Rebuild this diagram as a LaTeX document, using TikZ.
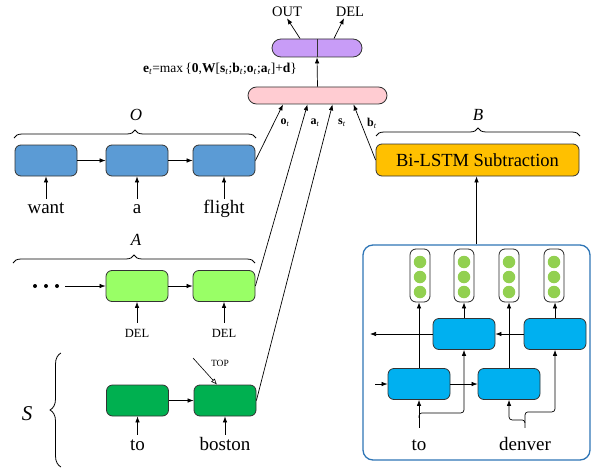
\documentclass[tikz,border=0pt]{standalone}
\usepackage{fontspec}
\setmainfont{Liberation Serif}
\usetikzlibrary{arrows.meta,decorations.pathreplacing,calc}
\definecolor{oblue}{HTML}{5B9BD5}
\definecolor{agreen}{HTML}{99FF66}
\definecolor{sgreen}{HTML}{00B050}
\definecolor{pinkc}{HTML}{FFCCD2}
\definecolor{purplec}{HTML}{C89CF7}
\definecolor{orangec}{HTML}{FFC000}
\definecolor{cyanc}{HTML}{00B0F0}
\definecolor{dotg}{HTML}{92D050}
\definecolor{framec}{HTML}{2E75B6}
\tikzset{
  lstm/.style={draw=black!80, line width=0.8pt, rounded corners=6pt, minimum width=62pt, minimum height=31pt, inner sep=0pt},
  arr/.style={-{Latex[length=6pt,width=4.5pt]}, line width=0.7pt},
  word/.style={font=\fontsize{19}{19}\selectfont, text height=13pt, text depth=4pt, inner sep=2pt, anchor=base},
  smallw/.style={font=\fontsize{12.5}{12.5}\selectfont, inner sep=1pt, anchor=base},
  setlbl/.style={font=\fontsize{17}{17}\selectfont\itshape, inner sep=0pt},
  vlbl/.style={font=\fontsize{12}{12}\selectfont, inner sep=0pt},
  brc/.style={decorate, decoration={brace, amplitude=8pt}, line width=0.8pt},
  outcol/.style={draw=black!85, line width=0.8pt, rounded corners=6pt, fill=white, minimum width=20pt, minimum height=53pt, inner sep=0pt},
  gdot/.style={circle, fill=dotg, minimum size=12.5pt, inner sep=0pt},
  bdot/.style={circle, fill=black, minimum size=4pt, inner sep=0pt}
}
\begin{document}
\begin{tikzpicture}[x=1pt,y=-1pt]
\useasboundingbox (0,0) rectangle (591,468);

% ---------- O row ----------
\node[lstm, fill=oblue] (o1) at (46,160.5) {};
\node[lstm, fill=oblue] (o2) at (137,160.5) {};
\node[lstm, fill=oblue] (o3) at (224,160.5) {};
\node[word] (w1) at (46,213) {want};
\node[word] (w2) at (137,213) {a};
\node[word] (w3) at (224,213) {flight};
\draw[arr] (o1.east) -- (o2.west);
\draw[arr] (o2.east) -- (o3.west);
\foreach \i in {1,2,3} \draw[arr] ([yshift=-1pt]w\i.north) -- (o\i.south);
\draw[brc] (14,138) -- (256,138);
\node[setlbl] (lo) at (136,115) {O};

% ---------- A row ----------
\node[lstm, fill=agreen] (a1) at (137,286) {};
\node[lstm, fill=agreen] (a2) at (224,286) {};
\node[bdot] (d1) at (35,286) {};
\node[bdot] (d2) at (46,286) {};
\node[bdot] (d3) at (57,286) {};
\coordinate (din) at (65,286);
\draw[arr] (din) -- (a1.west);
\draw[arr] (a1.east) -- (a2.west);
\node[smallw] (del1) at (137,337) {DEL};
\node[smallw] (del2) at (224,337) {DEL};
\draw[arr] ([yshift=5pt]del1.north) -- (a1.south);
\draw[arr] ([yshift=5pt]del2.north) -- (a2.south);
\draw[brc] (13,263) -- (255,263);
\node[setlbl] (la) at (136,240) {A};

% ---------- S row ----------
\node[lstm, fill=sgreen] (s1) at (137.5,400.5) {};
\node[lstm, fill=sgreen] (s2) at (225,400.5) {};
\draw[arr] (s1.east) -- (s2.west);
\node[word] (w4) at (137.5,450) {to};
\node[word] (w5) at (225,450) {boston};
\draw[arr] (w4.north) -- (s1.south);
\draw[arr] (w5.north) -- (s2.south);
\node[font=\fontsize{9.5}{9.5}\selectfont, inner sep=0pt] (top) at (220,363) {TOP};
\coordinate (topstart) at (193,358);
\draw[-{Latex[open,length=6pt,width=5pt]}, line width=0.6pt] (topstart) -- ([xshift=-8pt]s2.north);
\draw[decorate, decoration={brace, amplitude=11pt}, line width=0.8pt] (61,467) -- (61,353);
\node[font=\fontsize{21}{21}\selectfont\itshape, inner sep=0pt] (ls) at (27,414) {S};

% ---------- top ----------
\node[draw=black!80, line width=0.8pt, fill=pinkc, rounded corners=8.5pt, minimum width=139pt, minimum height=17pt, inner sep=0pt] (pk) at (317.5,95.5) {};
\node[draw=black!80, line width=0.8pt, fill=purplec, rounded corners=9pt, minimum width=90pt, minimum height=18pt, inner sep=0pt] (pu) at (317,48) {};
\draw[line width=0.8pt, black!80] (pu.north) -- (pu.south);
\draw[arr] (pk.north) -- (pu.south);
\node[font=\fontsize{14.5}{14.5}\selectfont, inner sep=0pt, anchor=base] (out) at (287,17) {OUT};
\node[font=\fontsize{14.5}{14.5}\selectfont, inner sep=0pt, anchor=base] (delt) at (350,17) {DEL};
\coordinate (outtail) at (300,38.5);
\coordinate (deltail) at (334,38.5);
\draw[arr] (outtail) -- ([yshift=-1pt]out.south);
\draw[arr] (deltail) -- ([xshift=-6pt,yshift=-1pt]delt.south);
\node[font=\fontsize{13.5}{13.5}\selectfont, inner sep=0pt] (form) at (220,69)
  {\textbf{e}\textsubscript{\textit{t}}=max\,\{\textbf{0},\textbf{W}[\textbf{s}\textsubscript{\textit{t}};\textbf{b}\textsubscript{\textit{t}};\textbf{o}\textsubscript{\textit{t}};\textbf{a}\textsubscript{\textit{t}}]+\textbf{d}\}};

% ---------- B ----------
\node[draw=black!80, line width=0.8pt, fill=orangec, rounded corners=6pt, minimum width=203pt, minimum height=32pt, inner sep=0pt, font=\fontsize{18.5}{18.5}\selectfont] (bl) at (477.5,160) {Bi-LSTM Subtraction};
\draw[brc] (376,136) -- (580,136);
\node[setlbl] (lb) at (478,115) {B};

% connectors to pink
\draw[arr] (o3.east) -- ([xshift=-34.5pt]pk.south);
\draw[arr] (a2.east) -- ([xshift=-10pt]pk.south);
\draw[arr] (s2.east) -- ([xshift=15pt]pk.south);
\draw[arr] (bl.west) -- ([xshift=36pt]pk.south);
\node[vlbl] (lot) at (285,123) {\textbf{o}\textsubscript{\textit{t}}};
\node[vlbl] (lat) at (315,123) {\textbf{a}\textsubscript{\textit{t}}};
\node[vlbl] (lst) at (342,123) {\textbf{s}\textsubscript{\textit{t}}};
\node[vlbl] (lbt) at (372,123) {\textbf{b}\textsubscript{\textit{t}}};

% ---------- Bi-LSTM frame ----------
\node[draw=framec, line width=1.3pt, rounded corners=10pt, minimum width=227pt, minimum height=215pt, inner sep=0pt] (frame) at (476.5,352.5) {};
\draw[arr] (frame.north) -- (frame.north |- bl.south);

\foreach \x/\n in {420/1,464/2,509/3,554/4}{
  \node[outcol] (c\n) at (\x,275.5) {};
  \node[gdot] at (\x,262) {};
  \node[gdot] at (\x,277) {};
  \node[gdot] at (\x,292) {};
}
\node[lstm, fill=cyanc] (u1) at (464,334) {};
\node[lstm, fill=cyanc] (u2) at (555,334) {};
\node[lstm, fill=cyanc] (l1) at (419,384) {};
\node[lstm, fill=cyanc] (l2) at (509,384) {};

\coordinate (uout) at (370,334);
\coordinate (lin) at (375,384);
\draw[arr] (u1.west) -- (uout);
\draw[arr] (u2.west) -- (u1.east);
\draw[arr] (lin) -- (l1.west);
\draw[arr] (l1.east) -- (l2.west);
\draw[arr] (l1.north) -- (l1.north |- c1.south);
\draw[arr] (u1.north) -- (u1.north |- c2.south);
\draw[arr] (l2.north) -- (l2.north |- c3.south);
\draw[arr] (u2.north) -- (u2.north |- c4.south);

\node[word] (w6) at (419,450) {to};
\node[word] (w7) at (525,450) {denver};
\draw[arr] ([yshift=7pt]w6.north) -- (l1.south);
\draw[arr, rounded corners=3pt] ([yshift=17pt]w6.north) |- ($(u1.south)+(0,63)$) -- (u1.south);
\draw[arr, rounded corners=3pt] ([yshift=7pt]w7.north) |- ($(l2.south)+(0,20)$) -- (l2.south);
\draw[arr, rounded corners=3pt] ([yshift=12pt]w7.north) |- ($(u2.south)+(0,62)$) -- (u2.south);
\end{tikzpicture}
\end{document}
